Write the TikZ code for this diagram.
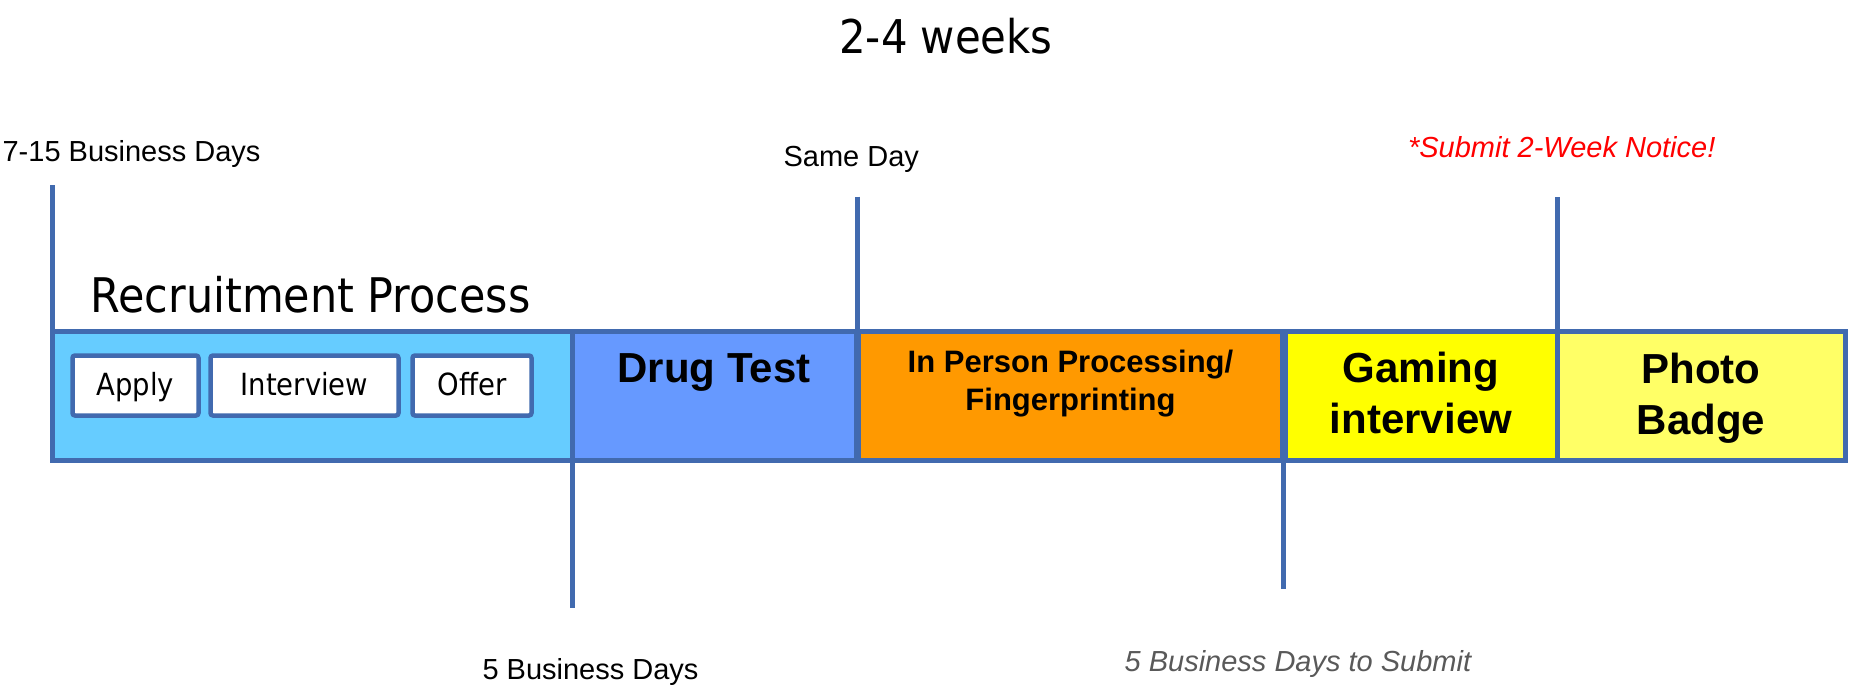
\documentclass[tikz,border=0pt]{standalone}
\usepackage{fontspec}
\setmainfont{Liberation Sans}
\newfontfamily\tahf{DejaVu Sans Condensed}
\definecolor{edge}{RGB}{65,106,175}
\definecolor{recfill}{RGB}{102,204,255}
\definecolor{drugfill}{RGB}{102,153,255}
\definecolor{orangefill}{RGB}{255,153,0}
\definecolor{gamefill}{RGB}{255,255,0}
\definecolor{photofill}{RGB}{255,255,102}
\definecolor{grayt}{RGB}{89,89,89}
\begin{document}
\begin{tikzpicture}[x=1pt,y=-1pt,
  cell/.style={draw=edge, line width=5pt, rectangle, inner sep=0pt, minimum height=128.7pt},
  sub/.style={draw=edge, fill=white, line width=4.5pt, rounded corners=2.5pt, inner sep=0pt,
              minimum height=60pt, text height=26pt, text depth=6pt,
              font=\tahf\fontsize{30.5}{36}\selectfont},
  tick/.style={draw=edge, line width=5pt},
  lbl/.style={inner sep=0pt, font=\fontsize{29}{35}\selectfont},
  bigl/.style={inner sep=0pt, align=center, font=\bfseries\fontsize{42}{51}\selectfont}
]
\useasboundingbox (0,0) rectangle (1854,693);

% tick coordinates
\coordinate (t1) at (52,185);
\coordinate (t2) at (857,196.7);
\coordinate (t3) at (1557,197.3);
\coordinate (b1) at (572.8,608.3);
\coordinate (b2) at (1283,589);

% cells
\node[cell, fill=recfill, minimum width=520.8pt] (rec) at (312.4,395.85) {};
\node[cell, fill=drugfill, minimum width=283.2pt] (drug) at (714.4,395.85) {};
\node[cell, fill=orangefill, minimum width=423.5pt] (inp) at (1070.25,395.85) {};
\node[cell, fill=gamefill, minimum width=272pt] (game) at (1421,395.85) {};
\node[cell, fill=photofill, minimum width=288.5pt] (photo) at (1701.25,395.85) {};

% ticks
\draw[tick] (t1) -- (t1 |- rec.north);
\draw[tick] (t2) -- (t2 |- drug.north);
\draw[tick] (t3) -- (t3 |- game.north);
\draw[tick] (b1 |- rec.south) -- (b1);
\draw[tick] (b2 |- inp.south) -- (b2);

% sub steps
\node[sub, minimum width=126pt] (apply) at (135.5,385.5) {Apply};
\node[sub, minimum width=188pt] (intv) at (304.5,385.5) {Interview};
\node[sub, minimum width=119pt] (offer) at (472,385.5) {Offer};

% cell texts
\node[inner sep=0pt, anchor=base, font=\bfseries\fontsize{42}{50}\selectfont] (drugt) at (714,382.7) {Drug Test};
\node[inner sep=0pt, anchor=north, align=center, font=\bfseries\fontsize{31}{38.3}\selectfont] (inpt) at (1070.5,350) {In Person Processing/\\Fingerprinting};
\node[bigl, anchor=north] (gamet) at (1421,351.5) {Gaming\\interview};
\node[bigl, anchor=north] (photot) at (1701,352.5) {Photo\\Badge};

% titles
\node[inner sep=0pt, anchor=base, font=\tahf\fontsize{46.5}{55}\selectfont] (weeks) at (946,53.3) {2-4 weeks};
\node[inner sep=0pt, anchor=base west, font=\tahf\fontsize{47.7}{56}\selectfont] (recp) at (90.5,312.3) {Recruitment Process};

% labels
\node[lbl, anchor=base west] (l715) at (2.4,161.7) {7-15 Business Days};
\node[lbl, anchor=base] (lsame) at (851.3,166.7) {Same Day};
\node[lbl, anchor=base, text=red, font=\itshape\fontsize{29}{35}\selectfont] (lsubmit) at (1561.7,157.7) {*Submit 2-Week Notice!};
\node[lbl, anchor=base] (l5) at (590.5,679.3) {5 Business Days};
\node[lbl, anchor=base, text=grayt, font=\itshape\fontsize{29}{35}\selectfont] (l5s) at (1297.9,671) {5 Business Days to Submit};
\end{tikzpicture}
\end{document}
